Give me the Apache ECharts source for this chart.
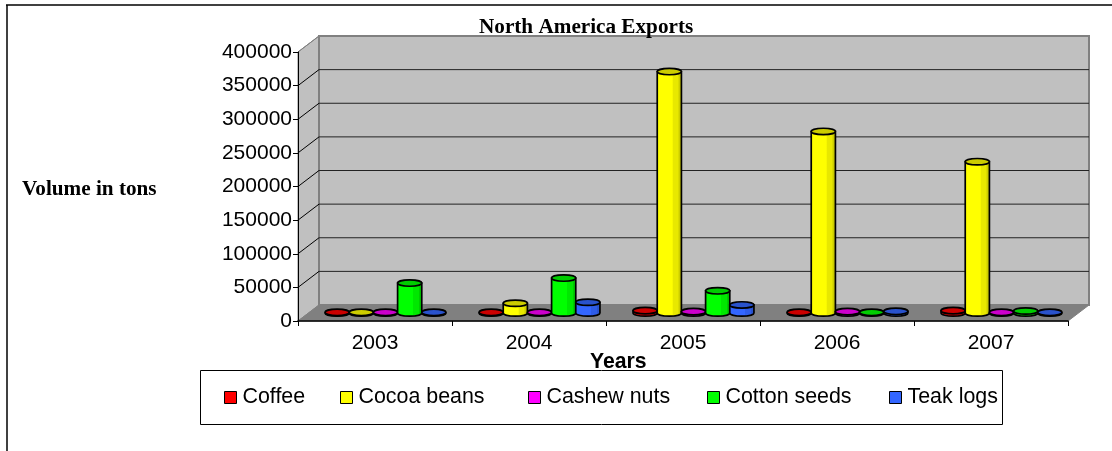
<!DOCTYPE html>
<html><head><meta charset="utf-8">
<style>html,body{margin:0;padding:0;background:#fff}#c{width:1112px;height:451px}</style>
<script src="https://cdn.jsdelivr.net/npm/echarts@6/dist/echarts.min.js"></script>
</head><body><div id="c"></div>
<script>
const years = ['2003','2004','2005','2006','2007'];
const coffee = [1000,1000,3500,1000,3500];
const cocoa = [1000,14500,359000,270000,225000];
const cashew = [1000,1000,2000,2000,1000];
const cotton = [44500,52000,33000,1000,3000];
const teak = [1000,16000,12000,2500,1000];
const ticks = [0,50000,100000,150000,200000,250000,300000,350000,400000];

const DX = 21, DY = -16;
const names = ['Coffee','Cocoa beans','Cashew nuts','Cotton seeds','Teak logs'];
const cols = ['#FF0000','#FFFF00','#FF00FF','#00FF00','#3366FF'];
const mid = ['#E80000','#E8E800','#E800E8','#00E800','#2E5CE8'];
const tops = ['#CC0000','#CCCC00','#CC00CC','#00CC00','#2952CC'];
const values = [coffee,cocoa,cashew,cotton,teak];
const legendLeft = [224,340,528,707,889];

function cyl(si){
  return function(params, api){
    const xi = api.value(0), v = api.value(1);
    const base = api.coord([xi,0]), top = api.coord([xi,v]);
    const band = api.size([1,0])[0];
    const w = band*0.157, ry = 3.2;
    const cx = base[0] + DX/2 + (si-2)*w;
    const by = base[1] + DY/2, ty = top[1] + DY/2;
    const rx = w/2;
    const kids = [];
    const h = by - ty;
    const lw = 1.7;
    if (h > 1){
      kids.push({type:'path', shape:{
        pathData:`M${cx-rx} ${ty}L${cx-rx} ${by}A${rx} ${ry} 0 0 0 ${cx+rx} ${by}L${cx+rx} ${ty}Z`,
        x:cx-rx,y:ty,width:2*rx,height:h+ry,layout:'center'},
        style:{stroke:'#000',lineWidth:lw,fill:new echarts.graphic.LinearGradient(0,0,1,0,[
          {offset:0,color:cols[si]},{offset:.62,color:cols[si]},{offset:.63,color:mid[si]},
          {offset:.85,color:mid[si]},{offset:.86,color:tops[si]},{offset:1,color:tops[si]}])}});
    } else {
      kids.push({type:'ellipse',shape:{cx:cx,cy:by,rx:rx,ry:ry},style:{fill:tops[si],stroke:'#000',lineWidth:lw}});
    }
    kids.push({type:'ellipse',shape:{cx:cx,cy:ty,rx:rx,ry:ry},style:{fill:tops[si],stroke:'#000',lineWidth:lw}});
    return {type:'group',children:kids};
  };
}

function walls(params, api){
  const band = api.size([1,0])[0];
  const o0 = api.coord([0,0]), t0 = api.coord([0,400000]), e0 = api.coord([4,0]);
  const o = [o0[0]-band/2,o0[1]], t = [t0[0]-band/2,t0[1]], e = [e0[0]+band/2,e0[1]];
  const kids = [];
  const gray = '#808080';
  kids.push({type:'polygon',shape:{points:[[o[0],o[1]],[o[0]+DX,o[1]+DY],[o[0]+DX,t[1]+DY],[t[0],t[1]]]},style:{fill:'#C0C0C0',stroke:gray,lineWidth:1}});
  kids.push({type:'rect',shape:{x:o[0]+DX,y:t[1]+DY,width:e[0]-o[0],height:o[1]-t[1]},style:{fill:'#C0C0C0',stroke:gray,lineWidth:2}});
  kids.push({type:'polygon',shape:{points:[[o[0],o[1]],[e[0],e[1]],[e[0]+DX,e[1]+DY],[o[0]+DX,o[1]+DY]]},style:{fill:gray,stroke:gray,lineWidth:1}});
  ticks.forEach(v=>{
    if(v===0) return;
    const y = api.coord([0,v])[1];
    if(v<400000) kids.push({type:'line',shape:{x1:o[0]+DX,y1:y+DY,x2:e[0]+DX,y2:y+DY},style:{stroke:'#222',lineWidth:1}});
    kids.push({type:'line',shape:{x1:o[0],y1:y,x2:o[0]+DX,y2:y+DY},style:{stroke:v===400000?gray:'#000',lineWidth:1}});
  });
  return {type:'group',children:kids};
}

const ser = [{type:'custom',silent:true,z:1,clip:false,renderItem:walls,data:[[0,0]],encode:{x:0,y:1},tooltip:{show:false}}];
names.forEach((n,i)=>{
  ser.push({type:'custom',name:n,z:3+i,clip:false,renderItem:cyl(i),
    itemStyle:{color:cols[i],borderColor:'#000',borderWidth:1},
    encode:{x:0,y:1},
    data:values[i].map((v,k)=>[k,v])});
});

const bold = (fam)=>({fontFamily:fam,fontWeight:'bold',fontSize:21.2,color:'#000'});
const chart = echarts.init(document.getElementById('c'),null,{renderer:'canvas'});
chart.setOption({
  animation:false,
  backgroundColor:'#fff',
  title:[
    {text:'North America Exports',left:479,top:17,textStyle:bold('Liberation Serif'),padding:0},
    {text:'Volume in tons',left:22,top:179,textStyle:bold('Liberation Serif'),padding:0},
    {text:'Years',left:590,top:352,textStyle:bold('Liberation Sans'),padding:0}
  ],
  grid:{left:298,top:52,width:770,height:269,containLabel:false},
  xAxis:{type:'category',data:years,z:6,
    axisLine:{show:true,onZero:false,lineStyle:{color:'#000',width:1.5}},
    axisTick:{show:true,length:5,alignWithLabel:false,lineStyle:{color:'#000'}},
    axisLabel:{fontFamily:'Liberation Sans',fontSize:21,color:'#000',margin:12},
    splitLine:{show:false}},
  yAxis:{type:'value',min:0,max:400000,interval:50000,z:6,
    axisLine:{show:true,lineStyle:{color:'#000',width:1}},
    axisTick:{show:true,length:5,lineStyle:{color:'#000'}},
    axisLabel:{fontFamily:'Liberation Sans',fontSize:21,color:'#000',margin:6,formatter:v=>String(v)},
    splitLine:{show:false}},
  legend:names.map((n,i)=>({left:legendLeft[i],top:387,data:[n],padding:0,itemWidth:12,itemHeight:12,icon:'rect',
    selectedMode:false,
    itemStyle:{borderColor:'#000',borderWidth:1},
    textStyle:{fontFamily:'Liberation Sans',fontSize:21.4,color:'#000',padding:[0,0,0,1]}})),
  graphic:[
    {type:'line',silent:true,shape:{x1:6,y1:5,x2:1112,y2:5},style:{stroke:'#000',lineWidth:1.5}},
    {type:'line',silent:true,shape:{x1:7,y1:5,x2:7,y2:451},style:{stroke:'#000',lineWidth:1.5}},
    {type:'rect',silent:true,z:-1,shape:{x:200.5,y:370.5,width:802,height:54},style:{fill:'#fff',stroke:'#000',lineWidth:1}}
  ],
  series:ser
});
</script></body></html>
